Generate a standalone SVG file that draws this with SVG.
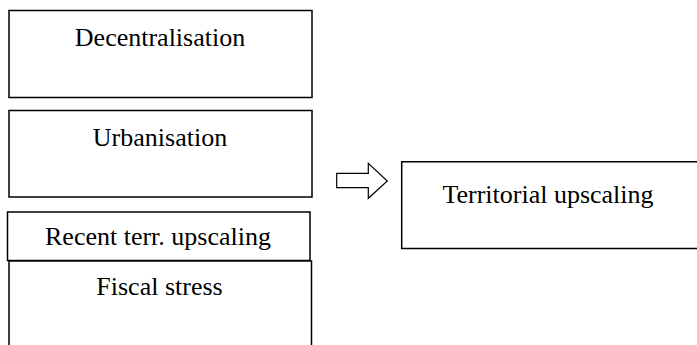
<svg xmlns="http://www.w3.org/2000/svg" width="697" height="345" viewBox="0 0 697 345">
<style>
.box{fill:#fff;stroke:#000;stroke-width:1.5}
.t{font-family:"Liberation Serif","Times New Roman",serif;font-size:26px;fill:#000;text-anchor:middle}
.arr{fill:#fff;stroke:#000;stroke-width:1.2}
</style>
<rect width="697" height="345" fill="#fff"/>
<g id="decentralisation">
<rect class="box" x="9" y="10.5" width="303" height="87"/>
<text class="t" x="160" y="46">Decentralisation</text>
</g>
<g id="urbanisation">
<rect class="box" x="9" y="110.5" width="303" height="86.5"/>
<text class="t" x="160" y="146">Urbanisation</text>
</g>
<g id="recent">
<rect class="box" x="7.5" y="212" width="302.5" height="48.5"/>
<text class="t" x="158" y="245">Recent terr. upscaling</text>
</g>
<g id="fiscal">
<path class="box" d="M9 346 V261 H311.5 V346"/>
<text class="t" x="159.5" y="295">Fiscal stress</text>
</g>
<g id="territorial">
<path class="box" d="M698 161.7 H401.7 V248.5 H698"/>
<text class="t" x="548" y="203">Territorial upscaling</text>
</g>
<g id="connectors">
<path class="arr" d="M336.7 173.3 H368.3 V163.3 L387.3 181 L368.3 198.3 V187.7 H336.7 Z"/>
</g>
</svg>
